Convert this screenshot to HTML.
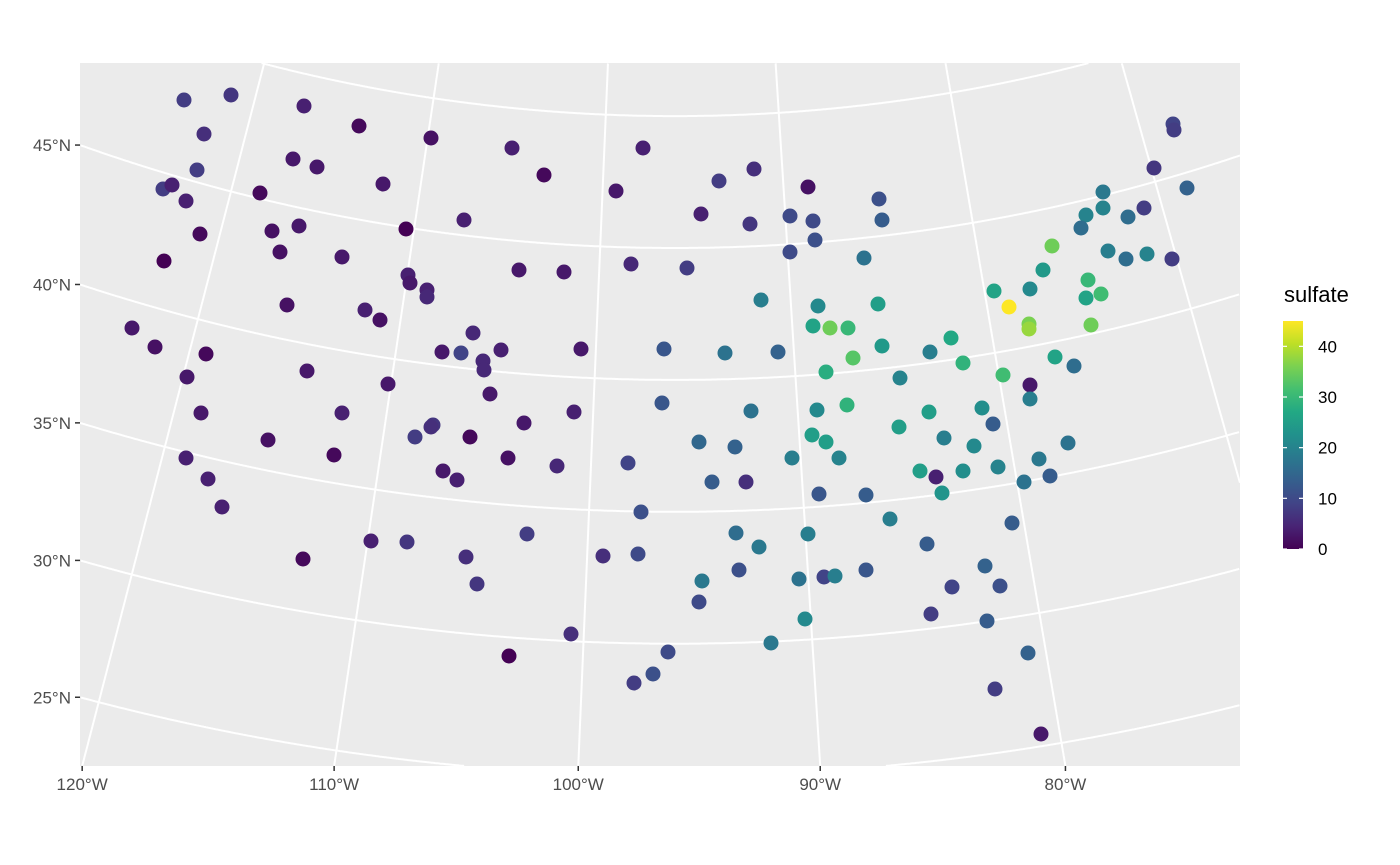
<!DOCTYPE html>
<html><head><meta charset="utf-8"><style>
html,body{margin:0;padding:0;background:#fff;width:1400px;height:865px;overflow:hidden;font-family:"Liberation Sans",Arial,sans-serif;}
svg{display:block;}
svg text{font-family:"Liberation Sans",Arial,sans-serif;}
</style></head><body>
<svg id="chart" width="1400" height="865" xmlns="http://www.w3.org/2000/svg">
<defs>
<clipPath id="panelClip"><rect x="80" y="63" width="1160" height="703"/></clipPath>
<linearGradient id="vir" x1="0" y1="1" x2="0" y2="0">
<stop offset="0" stop-color="#440154"/><stop offset="0.1" stop-color="#482475"/><stop offset="0.2" stop-color="#414487"/><stop offset="0.3" stop-color="#355f8d"/><stop offset="0.4" stop-color="#2a788e"/><stop offset="0.5" stop-color="#21918c"/><stop offset="0.6" stop-color="#22a884"/><stop offset="0.7" stop-color="#44bf70"/><stop offset="0.8" stop-color="#7ad151"/><stop offset="0.9" stop-color="#bddf26"/><stop offset="1" stop-color="#fde725"/>
</linearGradient>
</defs>
<rect x="80" y="63" width="1160" height="703" fill="#ebebeb"/>
<g id="grid" clip-path="url(#panelClip)"></g>
<g id="pts" clip-path="url(#panelClip)"></g>
<g id="axes"></g>
<g>
<text x="1284" y="302" font-size="22" fill="#000">sulfate</text>
<rect x="1283" y="321" width="20" height="228" fill="url(#vir)"/>
<g id="legTicks"></g>
</g>
</svg>
<script>
// Station data: projected easting / northing (km, Lambert conic) and sulfate value
const easting = [-1964,-1776,-1484,-1264,-976,-1884,-1528,-1432,-1168,-1912,-2048,-2012,-1956,-1660,-844,-1900,-1612,-1504,-1076,-1580,-1332,-2044,-1068,-1060,-992,-992,-1552,-1240,-1180,-808,-2172,-2080,-1876,-932,-856,-768,-764,-1952,-1472,-1148,-1896,-1332,-968,-976,-1040,-820,-1628,-1364,-1956,-928,-872,-1868,-1812,-1216,-1072,-836,-792,-1488,-652,-524,-128,-236,316,176,532,104,300,460,552,560,460,756,-624,-444,-176,48,344,572,552,620,692,712,604,-696,-376,-44,200,412,-740,-404,-52,304,568,688,-604,-668,-472,-188,96,240,548,604,468,656,148,284,576,764,-136,-592,-288,-148,244,336,256,108,96,532,496,596,640,764,520,384,-416,-664,-28,-88,-164,1992,1996,1916,2048,1712,1712,1644,1624,1812,1876,816,828,1508,1732,1804,1888,1988,1472,1652,1704,1644,1276,1420,1336,1416,1416,1664,812,828,1020,1104,1152,900,1312,1520,1596,1420,1420,1016,1228,1272,896,1076,1196,980,1044,1152,1292,1456,1572,1500,1396,1068,860,1348,1008,1240,1108,1300,1024,1248,1412,1280,1464];
const northing = [2664,2684,2640,2560,2512,2528,2428,2396,2328,2384,2308,2324,2260,2292,2184,2128,2140,2160,2148,2056,2036,2020,1964,1932,1904,1876,1844,1824,1784,1732,1752,1676,1648,1656,1652,1620,1584,1556,1580,1528,1412,1412,1364,1356,1316,1316,1304,1244,1232,1180,1144,1148,1036,900,896,836,728,828,2472,2364,2472,2300,2388,2340,2316,2208,2168,2200,2180,2104,2056,2032,1984,1976,2008,1992,1864,1840,1760,1752,1752,1632,1576,1664,1668,1668,1652,1656,1488,1416,1452,1420,1424,1444,1372,1232,1200,1212,1296,1276,1324,1296,1232,1232,1136,1136,1088,1084,1016,928,840,848,932,876,784,740,656,928,748,756,760,784,588,492,528,440,456,368,332,2568,2544,2392,2312,2296,2232,2204,2152,2196,2232,2268,2184,2080,2060,2028,2048,2028,1984,1944,1888,1872,1900,1908,1836,1768,1748,1764,1848,1680,1656,1712,1612,1552,1564,1636,1600,1524,1468,1416,1432,1368,1356,1312,1280,1180,1156,1180,1196,1228,1292,1160,1136,1092,988,972,888,800,716,720,608,580,452,308,128];
const sulfate = [8,7,4,1,2,6,3,3,3,8,8,4,4,1,4,1,2,3,0,2,3,0,4,3,4,5,2,4,2,5,3,2,1,3,9,5,5,3,3,3,3,4,7,6,8,1,2,1,4,3,4,4,4,4,7,6,7,1,4,1,4,3,6,8,2,4,7,10,10,11,10,17,3,3,5,8,19,21,26,35,30,33,28,4,3,12,17,14,3,4,12,17,21,29,3,2,5,9,15,14,25,25,19,20,13,6,12,13,11,8,6,10,16,18,11,18,10,19,17,9,19,12,21,18,6,0,10,11,8,9,8,7,14,18,20,20,16,16,8,11,13,35,19,16,20,8,24,30,31,26,26,21,45,36,38,35,25,24,19,27,29,20,31,26,16,3,19,25,22,13,25,19,21,25,4,22,20,18,17,13,17,23,19,13,13,14,9,11,8,13,14,8,3];
const latBreaks = [25,30,35,40,45];
const latLabels = ["25°N","30°N","35°N","40°N","45°N"];
const lonBreaks = [-120,-110,-100,-90,-80];
const lonLabels = ["120°W","110°W","100°W","90°W","80°W"];
const legendVals = [0,10,20,30,40];

const NS="http://www.w3.org/2000/svg";
const X0=675, YB=766, APY=-1523;
const PL=80,PR=1240,PT=63,PB=766;
function xScale(e){return X0+e/4;}
function yScale(n){return YB-n/4;}
function proj(lon,lat){const r=1771+(45-lat)*26.38;const t=0.605*(lon+96)*Math.PI/180;return [X0+r*Math.sin(t),APY+r*Math.cos(t)];}
const vir=["#440154","#482475","#414487","#355f8d","#2a788e","#21918c","#22a884","#44bf70","#7ad151","#bddf26","#fde725"];
function hex(c){return [1,3,5].map(i=>parseInt(c.substr(i,2),16));}
function color(v){let t=Math.max(0,Math.min(1,v/45))*10;const i=Math.min(9,Math.floor(t)),f=t-i;const a=hex(vir[i]),b=hex(vir[i+1]);return "rgb("+a.map((x,k)=>Math.round(x+(b[k]-x)*f)).join(",")+")";}
function mk(tag,attrs,parent){const el=document.createElementNS(NS,tag);for(const k in attrs)el.setAttribute(k,attrs[k]);parent.appendChild(el);return el;}
function inside(p){return p[0]>=PL&&p[0]<=PR&&p[1]>=PT&&p[1]<=PB;}
function clippedPath(ptsArr){let d="",pen=false;for(const p of ptsArr){if(inside(p)){d+=(pen?"L":"M")+p[0].toFixed(1)+","+p[1].toFixed(1);pen=true;}else pen=false;}return d;}

const grid=document.getElementById('grid');
for(let lat=20;lat<=55;lat+=5){const arr=[];for(let lon=-135;lon<=-55;lon+=0.05)arr.push(proj(lon,lat));
 const d=clippedPath(arr);if(!d)continue;
 const el=mk('path',{d:d,fill:'none',stroke:'#fff','stroke-width':2},grid);
 
 }
for(let lon=-130;lon<=-60;lon+=10){const arr=[];for(let lat=15;lat<=60;lat+=0.02)arr.push(proj(lon,lat));
 const d=clippedPath(arr);if(!d)continue;
 const el=mk('path',{d:d,fill:'none',stroke:'#fff','stroke-width':2},grid);
 
 }

const pts=document.getElementById('pts');
for(let i=0;i<sulfate.length;i++){
 const c=mk('circle',{cx:xScale(easting[i]),cy:yScale(northing[i]),r:7.5,fill:color(sulfate[i])},pts);
 
 }

const axes=document.getElementById('axes');
latBreaks.forEach((lat,i)=>{
 const r=1771+(45-lat)*26.38;const y=APY+Math.sqrt(r*r-(80-X0)*(80-X0));
 const tk=mk('line',{x1:75,x2:80,y1:y,y2:y,stroke:'#333','stroke-width':1.5},axes);
 
 
 const t=mk('text',{x:71,y:y+6,'text-anchor':'end','font-size':17,fill:'#4d4d4d'},axes);t.textContent=latLabels[i];
 
 });
lonBreaks.forEach((lon,i)=>{
 const t0=0.605*(lon+96)*Math.PI/180;const r=(YB-APY)/Math.cos(t0);const x=X0+r*Math.sin(t0);
 const tk=mk('line',{x1:x,x2:x,y1:766,y2:771,stroke:'#333','stroke-width':1.5},axes);
 
 
 const t=mk('text',{x:x,y:790,'text-anchor':'middle','font-size':17,fill:'#4d4d4d'},axes);t.textContent=lonLabels[i];
 
 });

const lt=document.getElementById('legTicks');
legendVals.forEach(v=>{const y=549-v/45*228;
 const a=mk('line',{x1:1283,x2:1287,y1:y,y2:y,stroke:'#fff','stroke-width':1.2},lt);
 
 
 const b=mk('line',{x1:1299,x2:1303,y1:y,y2:y,stroke:'#fff','stroke-width':1.2},lt);
 
 
 const t=mk('text',{x:1318,y:y+6,'font-size':17,fill:'#000'},lt);t.textContent=String(v);
 
 });
</script>
</body></html>
